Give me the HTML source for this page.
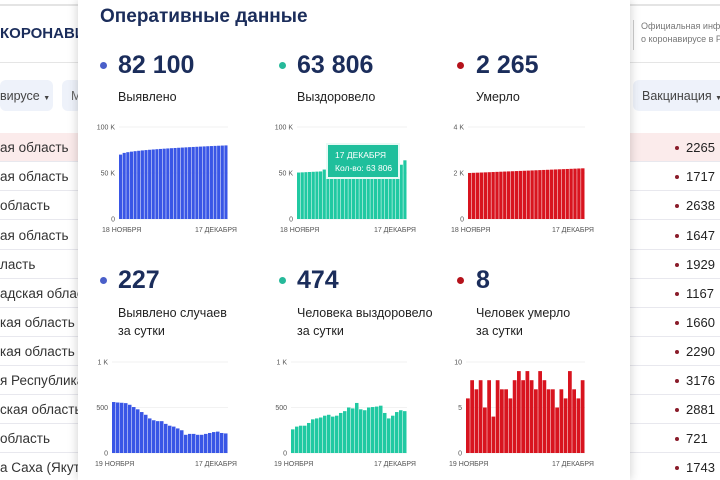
<!DOCTYPE html><html><head><meta charset="utf-8"><style>
*{margin:0;padding:0;box-sizing:border-box}
html,body{width:720px;height:480px;overflow:hidden}
body{background:#fff;font-family:"Liberation Sans",Arial,sans-serif;position:relative}
.abs{position:absolute}
.row{position:absolute;left:0;width:720px;height:29px;border-bottom:1px solid #e8e8ee;font-size:13.5px;color:#333;overflow:hidden}
.row .l{position:absolute;left:0;top:7px;white-space:nowrap}
.row .r{position:absolute;left:686px;top:7px;font-size:13px;color:#222}
.row .d{position:absolute;left:675px;top:13px;width:4px;height:4px;border-radius:50%;background:#8a1c2a}
.modal{position:absolute;left:78px;top:0;width:552px;height:480px;background:#fff;box-shadow:0 0 10px rgba(0,0,0,.2)}
.t{position:absolute;color:#1b2d5b;font-weight:bold}
.big{font-size:25px}
.lab{position:absolute;font-size:12.5px;color:#222;line-height:18px}
.dot{position:absolute;width:7px;height:7px;border-radius:50%}
svg text{font-family:"Liberation Sans",sans-serif;font-size:7px;fill:#555}
</style></head><body>
<div class="abs" style="left:0;top:4px;width:720px;height:2px;background:#e4e4e4"></div>
<div class="t" style="left:0;top:25px;font-size:15px;width:78px;overflow:hidden;white-space:nowrap">КОРОНАВИ</div>
<div class="abs" style="left:0;top:62px;width:78px;height:1px;background:#e5e5e5"></div>
<div class="abs" style="left:0;top:80px;width:53px;height:31px;background:#eef2fa;border-radius:6px;font-size:12.5px;color:#444;padding:9px 0 0 0">вирусе <span style="font-size:7px">▼</span></div>
<div class="abs" style="left:62px;top:80px;width:20px;height:31px;background:#eef2fa;border-radius:6px;font-size:12.5px;color:#666;padding:9px 0 0 9px">М</div>
<div class="abs" style="left:633px;top:20px;width:1px;height:30px;background:#ccc"></div>
<div class="abs" style="left:641px;top:20px;width:79px;overflow:hidden;font-size:9px;color:#777;line-height:13px;white-space:nowrap">Официальная информация<br>о коронавирусе в России</div>
<div class="abs" style="left:630px;top:62px;width:90px;height:1px;background:#e5e5e5"></div>
<div class="abs" style="left:633px;top:80px;width:87px;height:31px;background:#eef2fa;border-radius:6px 0 0 6px;font-size:12.5px;color:#444;padding:9px 0 0 9px;white-space:nowrap;overflow:hidden">Вакцинация <span style="font-size:7px">▼</span></div>
<div class="row" style="top:133px;background:#fbebeb"><span class="l">ая область</span><span class="d"></span><span class="r">2265</span></div>
<div class="row" style="top:162px"><span class="l">ая область</span><span class="d"></span><span class="r">1717</span></div>
<div class="row" style="top:191px"><span class="l">область</span><span class="d"></span><span class="r">2638</span></div>
<div class="row" style="top:221px"><span class="l">ая область</span><span class="d"></span><span class="r">1647</span></div>
<div class="row" style="top:250px"><span class="l">ласть</span><span class="d"></span><span class="r">1929</span></div>
<div class="row" style="top:279px"><span class="l">адская област</span><span class="d"></span><span class="r">1167</span></div>
<div class="row" style="top:308px"><span class="l">кая область</span><span class="d"></span><span class="r">1660</span></div>
<div class="row" style="top:337px"><span class="l">кая область</span><span class="d"></span><span class="r">2290</span></div>
<div class="row" style="top:366px"><span class="l">я Республика</span><span class="d"></span><span class="r">3176</span></div>
<div class="row" style="top:395px"><span class="l">ская область</span><span class="d"></span><span class="r">2881</span></div>
<div class="row" style="top:424px"><span class="l">область</span><span class="d"></span><span class="r">721</span></div>
<div class="row" style="top:453px"><span class="l">а Саха (Якутия</span><span class="d"></span><span class="r">1743</span></div>

<div class="modal"></div>
<div class="t" style="left:100px;top:6px;font-size:19px">Оперативные данные</div>

<div class="dot" style="left:100px;top:62px;background:#4a5fc9"></div>
<div class="t big" style="left:118px;top:51px">82 100</div>
<div class="lab" style="left:118px;top:88px">Выявлено</div>
<div class="dot" style="left:279px;top:62px;background:#26b99a"></div>
<div class="t big" style="left:297px;top:51px">63 806</div>
<div class="lab" style="left:297px;top:88px">Выздоровело</div>
<div class="dot" style="left:457px;top:62px;background:#b5121b"></div>
<div class="t big" style="left:476px;top:51px">2 265</div>
<div class="lab" style="left:476px;top:88px">Умерло</div>

<div class="dot" style="left:100px;top:277px;background:#4a5fc9"></div>
<div class="t big" style="left:118px;top:266px">227</div>
<div class="lab" style="left:118px;top:304px">Выявлено случаев<br>за сутки</div>
<div class="dot" style="left:279px;top:277px;background:#26b99a"></div>
<div class="t big" style="left:297px;top:266px">474</div>
<div class="lab" style="left:297px;top:304px">Человека выздоровело<br>за сутки</div>
<div class="dot" style="left:457px;top:277px;background:#b5121b"></div>
<div class="t big" style="left:476px;top:266px">8</div>
<div class="lab" style="left:476px;top:304px">Человек умерло<br>за сутки</div>

<svg id="s" class="abs" style="left:0;top:0" width="720" height="480"></svg>
<div class="abs" style="left:326px;top:143px;width:74px;height:36px;background:#1fbf9c;border:2px solid #e8faf5;color:#fff;font-size:8.5px;padding:4px 0 0 7px;line-height:13px">17 ДЕКАБРЯ<br>Кол-во: 63 806</div>
<script>
var s=document.getElementById('s'),h='';
function chart(x0,x1,y0,ytop,max,ticks,vals,col,l1,l2){
 ticks.forEach(function(t){var y=y0-(y0-ytop)*t[0]/max;h+='<line x1="'+(x0)+'" x2="'+(x1)+'" y1="'+y+'" y2="'+y+'" stroke="#eee" stroke-width="0.7"/>';h+='<text x="'+(x0-4)+'" y="'+(y+2.5)+'" text-anchor="end">'+t[1]+'</text>';});
 var n=vals.length,w=(x1-x0)/n;
 vals.forEach(function(v,i){var bh=(y0-ytop)*v/max;h+='<rect x="'+(x0+i*w)+'" y="'+(y0-bh)+'" width="'+(w-0.5)+'" height="'+bh+'" fill="'+col+'"/>';});
 h+='<text x="'+(x0-17)+'" y="'+(y0+13)+'">'+l1+'</text><text x="'+(x1+9)+'" y="'+(y0+13)+'" text-anchor="end">'+l2+'</text>';
}
var a=[],b=[],c=[];
for(var i=0;i<30;i++){a.push(70000+10000*Math.sqrt(i/29));b.push(i<7?50500+i*200:52000+i*250);c.push(2000+i*7);}
b[29]=63800;
chart(119,228,219,127,100000,[[0,'0'],[50000,'50 K'],[100000,'100 K']],a,'#3956e6','18 НОЯБРЯ','17 ДЕКАБРЯ');
chart(297,407,219,127,100000,[[0,'0'],[50000,'50 K'],[100000,'100 K']],b,'#20c9a2','18 НОЯБРЯ','17 ДЕКАБРЯ');
chart(468,585,219,127,4000,[[0,'0'],[2000,'2 K'],[4000,'4 K']],c,'#d8141f','18 НОЯБРЯ','17 ДЕКАБРЯ');
var d=[560,555,552,548,530,505,480,450,420,380,360,350,350,320,300,290,270,250,200,210,210,200,200,210,220,230,235,220,215];
var e=[260,290,300,300,330,370,380,390,410,420,400,410,440,460,500,490,550,480,470,500,505,510,520,440,380,410,450,470,460];
var f=[6,8,7,8,5,8,4,8,7,7,6,8,9,8,9,8,7,9,8,7,7,5,7,6,9,7,6,8];
chart(112,228,453,362,1000,[[0,'0'],[500,'500'],[1000,'1 K']],d,'#3956e6','19 НОЯБРЯ','17 ДЕКАБРЯ');
chart(291,407,453,362,1000,[[0,'0'],[500,'500'],[1000,'1 K']],e,'#20c9a2','19 НОЯБРЯ','17 ДЕКАБРЯ');
chart(466,585,453,362,10,[[0,'0'],[5,'5'],[10,'10']],f,'#d8141f','19 НОЯБРЯ','17 ДЕКАБРЯ');
s.innerHTML=h;
</script>
</body></html>
